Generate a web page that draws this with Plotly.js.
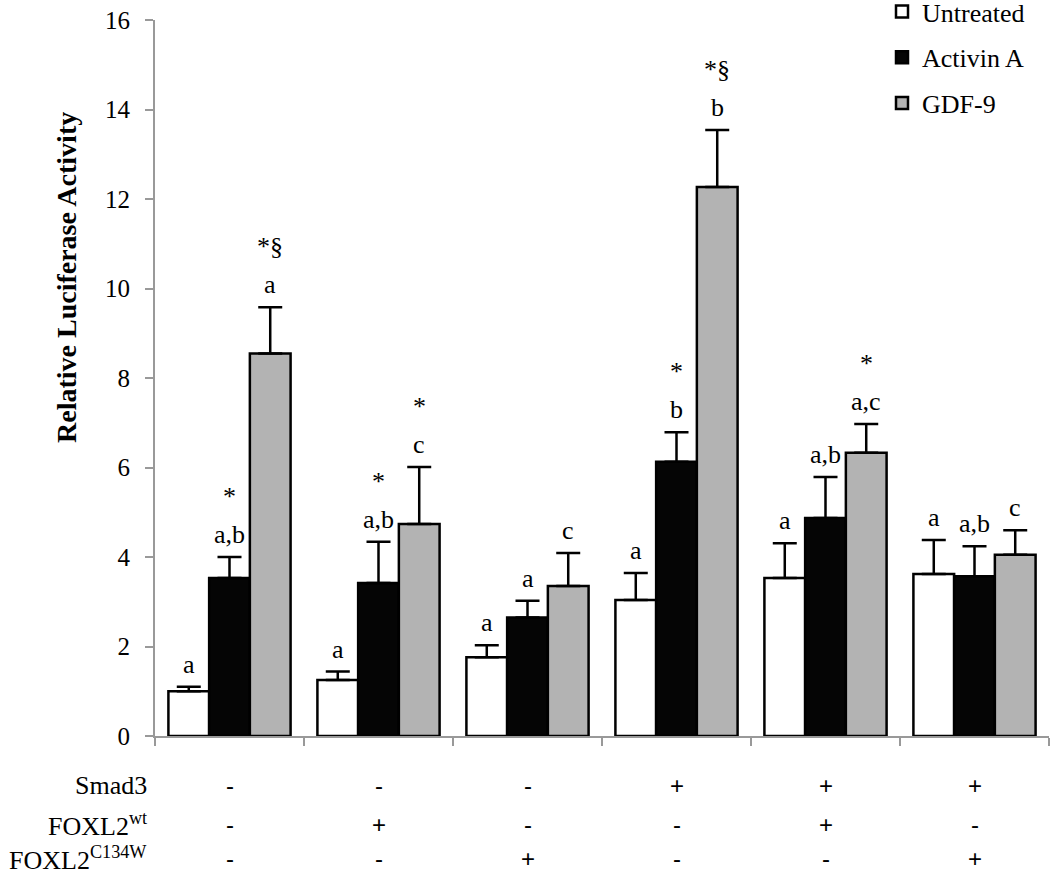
<!DOCTYPE html>
<html>
<head>
<meta charset="utf-8">
<script src="https://cdn.plot.ly/plotly-3.0.1.min.js"></script>
<style>html,body{margin:0;padding:0;background:#fff;}#chart{width:1050px;height:876px;}</style>
</head>
<body>
<div id="chart"></div>
<script>
// ---- data ----
var groups = [0, 1, 2, 3, 4, 5];
var seriesNames = ['Untreated', 'Activin A', 'GDF-9'];
var untreated    = [1.00, 1.25, 1.76, 3.04, 3.53, 3.62];
var untreatedErr = [0.10, 0.19, 0.27, 0.60, 0.78, 0.76];
var activin      = [3.53, 3.42, 2.65, 6.13, 4.87, 3.57];
var activinErr   = [0.47, 0.92, 0.37, 0.66, 0.92, 0.67];
var gdf9         = [8.55, 4.74, 3.35, 12.27, 6.33, 4.05];
var gdf9Err      = [1.03, 1.27, 0.74, 1.27, 0.64, 0.55];
var letU  = ['a', 'a', 'a', 'a', 'a', 'a'];
var letA  = ['a,b', 'a,b', 'a', 'b', 'a,b', 'a,b'];
var letG  = ['a', 'c', 'c', 'b', 'a,c', 'c'];
var starU = ['', '', '', '', '', ''];
var starA = ['*', '*', '', '*', '', ''];
var starG = ['*§', '*', '', '*§', '*', ''];
var rowLabels = ['Smad3', 'FOXL2<sup>wt</sup>', 'FOXL2<sup>C134W</sup>'];
var smad3   = ['-', '-', '-', '+', '+', '+'];
var foxl2wt = ['-', '+', '-', '-', '+', '-'];
var foxl2mt = ['-', '-', '+', '-', '-', '+'];
var yTicks = [0, 2, 4, 6, 8, 10, 12, 14, 16];
var yTitle = 'Relative Luciferase Activity';

// ---- layout geometry ----
var W = 1050, H = 876;
var ML = 155, MR = 1, MT = 20, MB = 140;
var PW = W - ML - MR, PH = H - MT - MB;
function px2x(px) { return (px - ML) / PW; }
function py2y(py) { return (H - MB - py) / PH; }

var bargap = 0.18;
var bw = (1 - bargap) / 3;
var serif = 'Liberation Serif';
var sans = 'Liberation Sans';

function barTrace(name, y, err, color) {
  var zeros = err.map(function () { return 0; });
  return {
    type: 'bar', name: name, x: groups, y: y, legendgroup: name,
    marker: {color: color, line: {color: '#000', width: 2.5}},
    error_y: {type: 'data', symmetric: false, array: err, arrayminus: zeros, visible: true,
              color: '#000', thickness: 2.5, width: 12},
    hoverinfo: 'skip'
  };
}

var data = [
  barTrace(seriesNames[0], untreated, untreatedErr, '#ffffff'),
  barTrace(seriesNames[1], activin, activinErr, '#050505'),
  barTrace(seriesNames[2], gdf9, gdf9Err, '#b3b3b3')
];

var ann = [];
var vals = [untreated, activin, gdf9];
var errs = [untreatedErr, activinErr, gdf9Err];
var lets = [letU, letA, letG];
var stars = [starU, starA, starG];
for (var k = 0; k < 3; k++) {
  for (var i = 0; i < groups.length; i++) {
    var xx = groups[i] + (k - 1) * bw;
    var capY = vals[k][i] + errs[k][i];
    ann.push({x: xx, y: capY, xref: 'x', yref: 'y', text: lets[k][i], showarrow: false,
              xanchor: 'center', yanchor: 'bottom', yshift: 6,
              font: {family: serif, size: 26, color: '#000'}});
    if (stars[k][i]) {
      ann.push({x: xx, y: capY, xref: 'x', yref: 'y', text: stars[k][i], showarrow: false,
                xanchor: 'center', yanchor: 'bottom', yshift: 44,
                font: {family: serif, size: 26, color: '#000'}});
    }
  }
}
var rowY = [785, 824, 858];
var rows = [smad3, foxl2wt, foxl2mt];
for (var r = 0; r < 3; r++) {
  ann.push({x: px2x(149), y: py2y(rowY[r]), xref: 'paper', yref: 'paper', text: rowLabels[r],
            showarrow: false, xanchor: 'right', yanchor: 'middle',
            font: {family: serif, size: 26, color: '#000'}});
  for (var g = 0; g < groups.length; g++) {
    ann.push({x: groups[g], y: py2y(rowY[r]), xref: 'x', yref: 'paper', text: rows[r][g],
              showarrow: false, xanchor: 'center', yanchor: 'middle',
              font: {family: sans, size: 24, color: '#000'}});
  }
}
ann.push({x: px2x(66), y: py2y(278), xref: 'paper', yref: 'paper', text: '<b>' + yTitle + '</b>',
          textangle: -90, showarrow: false, xanchor: 'center', yanchor: 'middle',
          font: {family: serif, size: 28, color: '#000'}});

var layout = {
  width: W, height: H,
  margin: {l: ML, r: MR, t: MT, b: MB, pad: 0, autoexpand: false},
  paper_bgcolor: '#fff', plot_bgcolor: '#fff',
  barmode: 'group', bargap: bargap, bargroupgap: 0,
  showlegend: true,
  legend: {x: px2x(882), y: py2y(-12), xanchor: 'left', yanchor: 'top',
           font: {family: serif, size: 26, color: '#000'},
           traceorder: 'grouped', tracegroupgap: 9,
           bgcolor: 'rgba(0,0,0,0)'},
  xaxis: {range: [-0.5, 5.5], tickmode: 'array',
          tickvals: [-0.5, 0.5, 1.5, 2.5, 3.5, 4.5, 5.5], showticklabels: false,
          ticks: 'outside', ticklen: 8, tickwidth: 2, tickcolor: '#999',
          showline: true, linecolor: '#999', linewidth: 2,
          showgrid: false, zeroline: false, fixedrange: true},
  yaxis: {range: [0, 16], tickmode: 'array', tickvals: yTicks,
          ticks: 'outside', ticklen: 8, tickwidth: 2, tickcolor: '#999',
          ticklabelstandoff: 10,
          showline: true, linecolor: '#999', linewidth: 2,
          showgrid: false, zeroline: false, fixedrange: true,
          tickfont: {family: serif, size: 25, color: '#000'}},
  annotations: ann
};

Plotly.newPlot('chart', data, layout, {displayModeBar: false});
</script>
</body>
</html>
